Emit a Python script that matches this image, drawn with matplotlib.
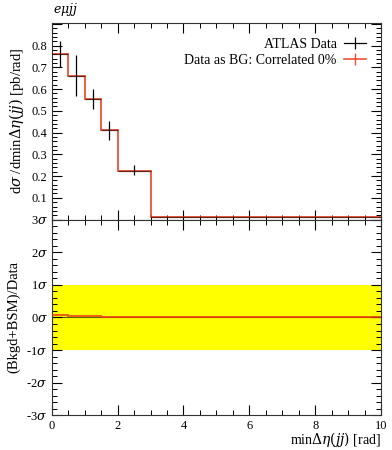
import numpy as np
import matplotlib
matplotlib.use("Agg")
import matplotlib.pyplot as plt
from matplotlib.ticker import MultipleLocator, FixedLocator, FuncFormatter
from matplotlib.lines import Line2D

plt.rcParams['font.family'] = ['Liberation Serif', 'DejaVu Serif']
plt.rcParams['mathtext.fontset'] = 'dejavuserif'

# bin edges in minDeta(jj) [rad]
edges = [0, 0.5, 1.0, 1.5, 2.0, 3.0, 10.0]
data_vals = [0.76, 0.66, 0.555, 0.41, 0.225, 0.012]
data_lo = [0.70, 0.57, 0.51, 0.365, 0.205, 0.010]
data_hi = [0.82, 0.755, 0.60, 0.455, 0.25, 0.014]
mc_vals = [0.76, 0.66, 0.555, 0.41, 0.225, 0.012]
ratio_vals = [0.07, 0.03, 0.03, 0.0, 0.0, 0.0]

red = '#ee3311'

fig = plt.figure(figsize=(3.92, 4.5), dpi=100)
ax = fig.add_axes([0.132, 0.512, 0.840, 0.4375])
axr = fig.add_axes([0.132, 0.077, 0.840, 0.435], sharex=ax)

edges = np.array(edges)
centers = 0.5 * (edges[:-1] + edges[1:])
dv = np.array(data_vals)

# main panel
ax.stairs(mc_vals, edges, color=red, lw=1.3, alpha=0.85, baseline=None, zorder=2)
mask = np.arange(len(dv)) < 5
ax.errorbar(centers[mask], dv[mask],
            yerr=[dv[mask] - np.array(data_lo)[mask], np.array(data_hi)[mask] - dv[mask]],
            fmt='none', ecolor='black', elinewidth=0.9, zorder=3)
# horizontal data bars
ax.hlines(dv, edges[:-1], edges[1:], color='black', lw=0.9, alpha=0.6, zorder=3)

ax.set_xlim(0, 10)
ax.set_ylim(0, 0.905)
ax.yaxis.set_major_locator(MultipleLocator(0.1))
ax.yaxis.set_minor_locator(MultipleLocator(0.02))
ax.xaxis.set_major_locator(MultipleLocator(2))
ax.xaxis.set_minor_locator(MultipleLocator(0.5))
ax.yaxis.set_major_formatter(FuncFormatter(
    lambda v, p: '' if (abs(v) < 1e-9 or v > 0.85) else f'{v:.1f}'))
ax.tick_params(axis='x', labelbottom=False)
ax.set_ylabel(r'd$\sigma$ /dmin$\Delta\eta(jj)$ [pb/rad]', fontsize=10.5)
fig.text(0.134, 0.978, r'$e\mu jj$', fontsize=9, ha='left', va='center')

h1 = Line2D([], [], color='black', lw=0.9, marker='|', markersize=9, markeredgewidth=0.9)
h2 = Line2D([], [], color=red, lw=1.2, marker='|', markersize=9, markeredgewidth=1.0, alpha=0.85)
leg = ax.legend([h1, h2], ['ATLAS Data', 'Data as BG: Correlated 0%'],
                loc='upper right', frameon=False, fontsize=10, markerfirst=False,
                handlelength=1.6, borderaxespad=0.7, labelspacing=0.2, handletextpad=0.5)

# ratio panel
axr.axhspan(-1, 1, color='#ffff00', lw=0, zorder=0)
axr.axhline(0, color='#556b00', lw=0.8, zorder=1)
axr.stairs(ratio_vals, edges, color=red, lw=1.3, alpha=0.85, baseline=None, zorder=3)
axr.set_ylim(-3, 3)
axr.yaxis.set_major_locator(FixedLocator([-3, -2, -1, 0, 1, 2, 3]))
axr.yaxis.set_minor_locator(MultipleLocator(0.2))
axr.yaxis.set_major_formatter(FuncFormatter(lambda v, p: f'{int(round(v))}' + r'$\sigma$'))
axr.set_ylabel('(Bkgd+BSM)/Data', fontsize=10.5)
axr.set_xlabel(r'min$\Delta\eta(jj)$ [rad]', fontsize=10, loc='right', labelpad=-1)
axr.xaxis.set_major_formatter(FuncFormatter(lambda v, p: f'{int(v)}'))

for a in (ax, axr):
    a.tick_params(which='both', direction='in', top=True, right=True, labelsize=9, pad=3)
    a.tick_params(which='major', length=7, width=0.8)
    a.tick_params(which='minor', length=3.5, width=0.7)
    for s in a.spines.values():
        s.set_linewidth(0.8)
        s.set_color('#333333')

fig.savefig('out.png', dpi=100)
